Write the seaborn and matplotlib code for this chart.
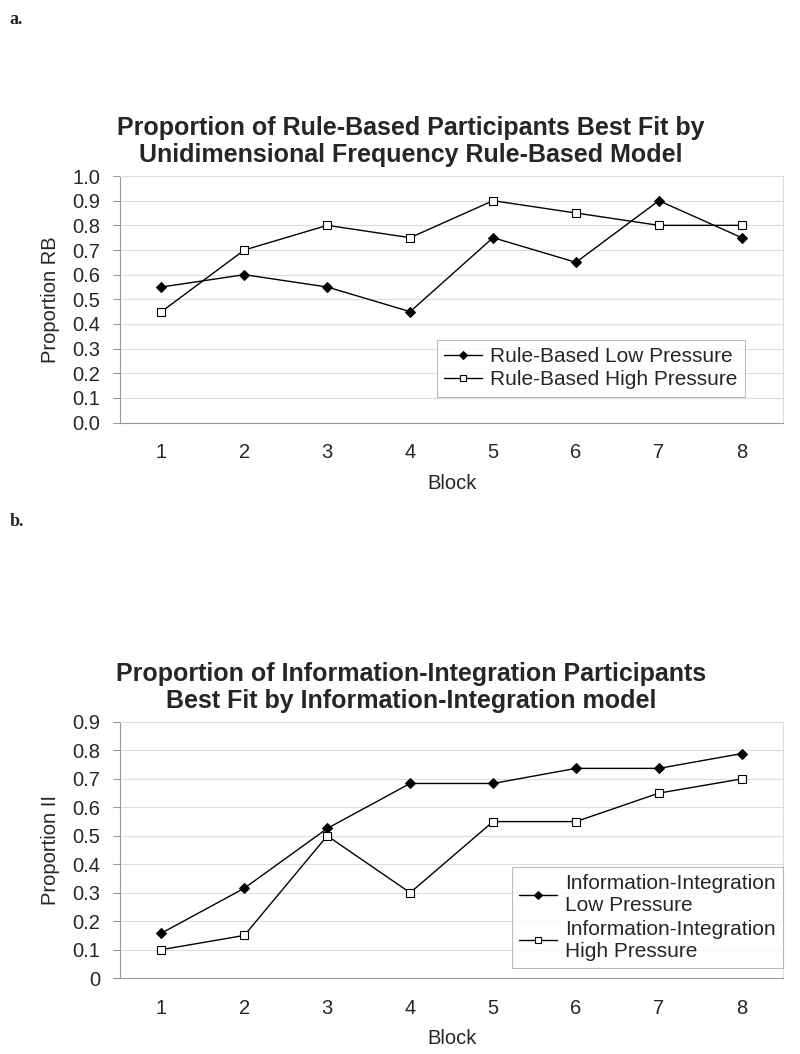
import pandas as pd
import matplotlib.pyplot as plt
import seaborn as sns
from matplotlib.ticker import FixedLocator

# Data
blocks = [1, 2, 3, 4, 5, 6, 7, 8]
rb_low = [0.55, 0.60, 0.55, 0.45, 0.75, 0.65, 0.90, 0.75]
rb_high = [0.45, 0.70, 0.80, 0.75, 0.90, 0.85, 0.80, 0.80]
ii_low = [0.158, 0.316, 0.526, 0.684, 0.684, 0.737, 0.737, 0.789]
ii_high = [0.10, 0.15, 0.50, 0.30, 0.55, 0.55, 0.65, 0.70]

sns.set_style("white")
plt.rcParams['font.family'] = ['Liberation Sans', 'DejaVu Sans']

fig = plt.figure(figsize=(8, 10.54), dpi=100)
ax1 = fig.add_axes([0.15, 0.599, 0.829, 0.234])
ax2 = fig.add_axes([0.15, 0.072, 0.829, 0.243])


def draw(ax, low, high, labels, yticks, ylabel, title, ticklabels, legend_loc, legend_box):
    df = pd.DataFrame({'Block': blocks, 'low': low, 'high': high})
    sns.lineplot(data=df, x='Block', y='low', ax=ax, color='black', lw=1,
                 marker='D', markersize=5, markerfacecolor='black',
                 markeredgecolor='black', label=labels[0])
    sns.lineplot(data=df, x='Block', y='high', ax=ax, color='black', lw=1,
                 marker='s', markersize=6, markerfacecolor='white',
                 markeredgecolor='black', markeredgewidth=0.8, label=labels[1])
    ax.set_xlim(0.5, 8.5)
    ax.set_ylim(yticks[0], yticks[-1])
    ax.set_yticks(yticks)
    ax.set_yticklabels(ticklabels, fontsize=14.5)
    ax.set_xticks(blocks)
    ax.set_xticklabels([str(b) for b in blocks], fontsize=14.5)
    ax.xaxis.set_minor_locator(FixedLocator([b + 0.5 for b in [0] + blocks]))
    ax.tick_params(axis='x', which='major', length=0, pad=15)
    ax.tick_params(axis='x', which='minor', length=5, color='#999999', direction='out')
    ax.tick_params(axis='y', length=5, color='#999999', direction='out', left=True, pad=9)
    ax.grid(axis='y', color='#dddddd', lw=0.8)
    for s in ax.spines.values():
        s.set_color('#999999')
        s.set_linewidth(0.8)
    ax.spines['top'].set_color('#dddddd')
    ax.spines['right'].set_color('#dddddd')
    ax.set_xlabel('Block', fontsize=14.5, labelpad=8)
    ax.set_ylabel(ylabel, fontsize=14.5, labelpad=9)
    ax.set_title(title, fontsize=18, fontweight='bold', pad=10, linespacing=1.15, x=0.439)
    leg = ax.legend(loc=legend_loc, bbox_to_anchor=legend_box, fontsize=15,
                    frameon=True, fancybox=False, handlelength=1.8,
                    handletextpad=0.4, borderpad=0.35, labelspacing=0.2,
                    borderaxespad=0)
    leg.get_frame().set_edgecolor('#aaaaaa')
    leg.get_frame().set_linewidth(0.8)
    for h in leg.legend_handles:
        h.set_markersize(4.5)


draw(ax1, rb_low, rb_high,
     ['Rule-Based Low Pressure', 'Rule-Based High Pressure'],
     [0, 0.1, 0.2, 0.3, 0.4, 0.5, 0.6, 0.7, 0.8, 0.9, 1.0], 'Proportion RB',
     'Proportion of Rule-Based Participants Best Fit by\nUnidimensional Frequency Rule-Based Model',
     ['0.0', '0.1', '0.2', '0.3', '0.4', '0.5', '0.6', '0.7', '0.8', '0.9', '1.0'],
     'lower left', (0.478, 0.105))

draw(ax2, ii_low, ii_high,
     ['Information-Integration\nLow Pressure', 'Information-Integration\nHigh Pressure'],
     [0, 0.1, 0.2, 0.3, 0.4, 0.5, 0.6, 0.7, 0.8, 0.9], 'Proportion II',
     'Proportion of Information-Integration Participants\nBest Fit by Information-Integration model',
     ['0', '0.1', '0.2', '0.3', '0.4', '0.5', '0.6', '0.7', '0.8', '0.9'],
     'lower right', (1.0, 0.04))

fig.text(0.012, 0.99, 'a.', fontsize=13, fontweight='bold', family='Liberation Serif', va='top')
fig.text(0.012, 0.513, 'b.', fontsize=13, fontweight='bold', family='Liberation Serif', va='top')

fig.savefig('out.png', dpi=100)
